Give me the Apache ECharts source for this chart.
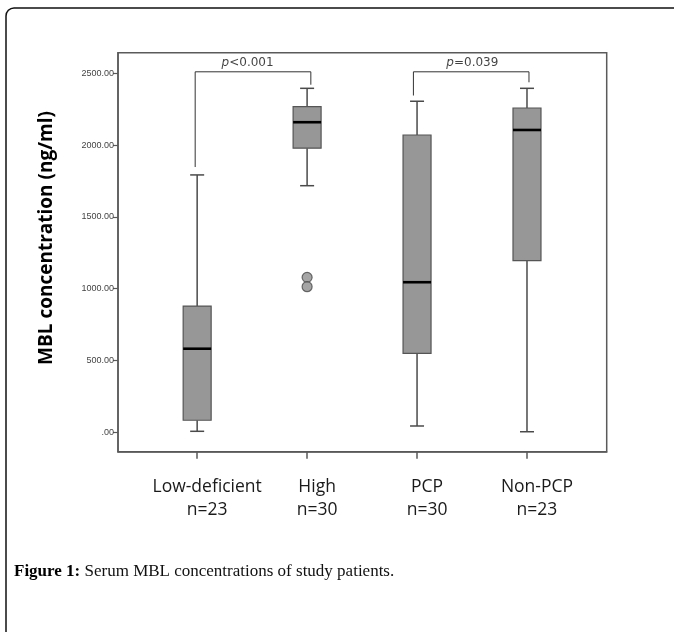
<!DOCTYPE html>
<html>
<head>
<meta charset="utf-8">
<script src="https://cdn.jsdelivr.net/npm/echarts@6/dist/echarts.min.js"></script>
<style>
  html, body { margin: 0; padding: 0; background: #fff; }
  #chart { width: 674px; height: 632px; }
</style>
</head>
<body>
<div id="chart"></div>
<script>
// ---- data ----
const groupNames = ['Low-deficient', 'High', 'PCP', 'Non-PCP'];
const groupSizes = ['n=23', 'n=30', 'n=30', 'n=23'];
const whiskerLow  = [7, 1717, 44, 4];
const quartile1   = [84, 1978, 550, 1195];
const medians     = [582, 2159, 1045, 2105];
const quartile3   = [879, 2267, 2070, 2258];
const whiskerHigh = [1792, 2395, 2305, 2395];
const outliers    = [[1, 1079], [1, 1014]];
const yTickValues = [0, 500, 1000, 1500, 2000, 2500];
// brackets: [leftX, leftLegEnd, rightX, rightLegEnd, top]
const bracket1 = [-0.018, 1847, 1.034, 2420, 2510];
const bracket2 = [1.967, 2345, 3.018, 2437, 2510];
const pLabels = [
  { x: 0.459, y: 2510, p: 'p', rest: '<0.001' },
  { x: 2.503, y: 2510, p: 'p', rest: '=0.039' }
];

const boxData = groupNames.map((_, i) => [i, whiskerLow[i], quartile1[i], medians[i], quartile3[i], whiskerHigh[i]]);

const chart = echarts.init(document.getElementById('chart'));

function renderBox(params, api) {
  const x = api.value(0);
  const pMin = api.coord([x, api.value(1)]);
  const pQ1 = api.coord([x, api.value(2)]);
  const pMed = api.coord([x, api.value(3)]);
  const pQ3 = api.coord([x, api.value(4)]);
  const pMax = api.coord([x, api.value(5)]);
  const halfW = api.size([0.2545, 0])[0] / 2;
  const capW = halfW / 2;
  const cx = pMed[0];
  const lineStyle = { stroke: '#4a4a4a', lineWidth: 1.5 };
  return {
    type: 'group',
    children: [
      { type: 'line', shape: { x1: cx, y1: pQ3[1], x2: cx, y2: pMax[1] }, style: lineStyle },
      { type: 'line', shape: { x1: cx, y1: pQ1[1], x2: cx, y2: pMin[1] }, style: lineStyle },
      { type: 'line', shape: { x1: cx - capW, y1: pMax[1], x2: cx + capW, y2: pMax[1] }, style: lineStyle },
      { type: 'line', shape: { x1: cx - capW, y1: pMin[1], x2: cx + capW, y2: pMin[1] }, style: lineStyle },
      { type: 'rect', shape: { x: cx - halfW, y: pQ3[1], width: halfW * 2, height: pQ1[1] - pQ3[1] },
        style: { fill: '#979797', stroke: '#555', lineWidth: 1.2 } },
      { type: 'line', shape: { x1: cx - halfW, y1: pMed[1], x2: cx + halfW, y2: pMed[1] },
        style: { stroke: '#000', lineWidth: 2.6 } }
    ]
  };
}

function bracketLine(b) {
  return [[b[0], b[1]], [b[0], b[4]], [b[2], b[4]], [b[2], b[3]]];
}

const option = {
  animation: false,
  backgroundColor: '#fff',
  grid: {
    left: 118, top: 52.7, right: 67.3, bottom: 180.3,
    show: true, borderColor: '#5a5a5a', borderWidth: 1.5, backgroundColor: 'transparent'
  },
  xAxis: {
    type: 'value', min: -0.72, max: 3.725,
    splitLine: { show: false },
    axisLine: { show: true, onZero: false, lineStyle: { color: '#5a5a5a', width: 1.5 } },
    axisTick: { show: true, customValues: [0, 1, 2, 3], length: 7, lineStyle: { color: '#5a5a5a', width: 1.5 } },
    axisLabel: {
      customValues: [0, 1, 2, 3],
      margin: 24,
      formatter: v => groupNames[Math.round(v)] + '\n' + groupSizes[Math.round(v)],
      fontFamily: 'Open Sans', fontSize: 17.5, color: '#1a1a1a', lineHeight: 23,
      padding: [0, 0, 0, 20]
    }
  },
  yAxis: {
    type: 'value', min: -135, max: 2643,
    splitLine: { show: false },
    axisLine: { show: true, onZero: false, lineStyle: { color: '#5a5a5a', width: 1.5 } },
    axisTick: { show: true, customValues: yTickValues, length: 5, lineStyle: { color: '#5a5a5a', width: 1.2 } },
    axisLabel: {
      customValues: yTickValues,
      margin: 4,
      formatter: v => v === 0 ? '.00' : v.toFixed(2),
      fontFamily: 'Liberation Sans', fontSize: 9, color: '#444'
    }
  },
  graphic: [
    { type: 'rect', silent: true, z: 100,
      shape: { x: 6, y: 8, width: 760, height: 760, r: 8 },
      style: { fill: 'none', stroke: '#111', lineWidth: 1.5 } },
    { type: 'text', silent: true, x: 47, y: 238, rotation: Math.PI / 2,
      style: { text: 'MBL concentration (ng/ml)', font: 'bold 19px "Open Sans"', fill: '#000',
               align: 'center', verticalAlign: 'middle' } },
    { type: 'text', silent: true, x: 14, y: 572,
      style: {
        text: '{b|Figure 1:} Serum MBL concentrations of study patients.',
        verticalAlign: 'middle', align: 'left',
        font: '17px "Liberation Serif"', fill: '#111',
        rich: { b: { fontWeight: 'bold', fontFamily: 'Liberation Serif', fontSize: 17, fill: '#000' } }
      } }
  ],
  series: [
    { type: 'custom', renderItem: renderBox, data: boxData, encode: { x: 0, y: [1, 2, 3, 4, 5] }, z: 2 },
    { type: 'scatter', data: outliers, symbol: 'circle', symbolSize: 10,
      itemStyle: { color: '#8e8e8e', borderColor: '#4a4a4a', borderWidth: 1.2 }, z: 3 },
    { type: 'line', data: bracketLine(bracket1), symbol: 'none',
      lineStyle: { color: '#333', width: 1 }, z: 1 },
    { type: 'line', data: bracketLine(bracket2), symbol: 'none',
      lineStyle: { color: '#333', width: 1 }, z: 1 },
    { type: 'scatter', symbolSize: 0,
      data: pLabels.map(d => ({ value: [d.x, d.y], p: d.p, rest: d.rest })),
      label: {
        show: true, position: 'top', distance: 3,
        formatter: params => '{i|' + params.data.p + '}{n|' + params.data.rest + '}',
        rich: {
          i: { fontStyle: 'italic', fontFamily: 'DejaVu Sans', fontSize: 12, color: '#111' },
          n: { fontFamily: 'DejaVu Sans', fontSize: 12, color: '#111' }
        }
      }, z: 4 }
  ]
};
chart.setOption(option);
</script>
</body>
</html>
